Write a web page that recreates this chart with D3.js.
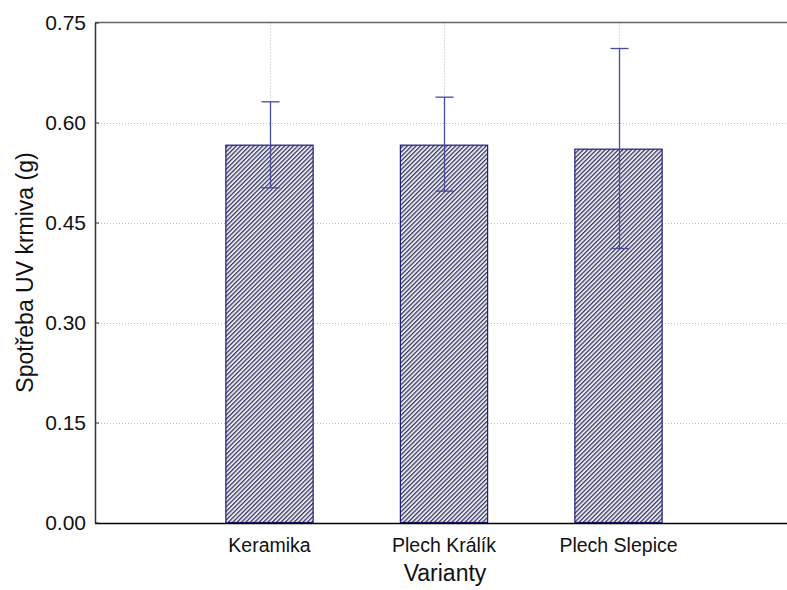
<!DOCTYPE html>
<html>
<head>
<meta charset="utf-8">
<script src="https://cdn.jsdelivr.net/npm/d3@7"></script>
<style>
  html, body { margin: 0; padding: 0; background: #fff; }
  text { font-family: "Liberation Sans", Arial, sans-serif; fill: #111; }
</style>
</head>
<body>
<svg id="chart" width="787" height="590"></svg>
<script>
// Mean consumption per variant with error bar bounds
const categories = ["Keramika", "Plech Králík", "Plech Slepice"];
const means = [0.566, 0.566, 0.560];
const upper = [0.631, 0.638, 0.711];
const lower = [0.502, 0.497, 0.411];
const yTicks = [0, 0.15, 0.30, 0.45, 0.60, 0.75];

const svg = d3.select("#chart");
const margin = { left: 95, top: 22.5, bottom: 67.5 };
const H = 590;
const plotBottom = H - margin.bottom;

// Category slots: positions 1..3 out of 0..4
const x = d3.scaleLinear().domain([0, 4]).range([margin.left, 793]);
const slot = x(1) - x(0);
const y = d3.scaleLinear().domain([0, 0.75]).range([plotBottom, margin.top]);

// Hatch pattern for bars
const defs = svg.append("defs");
const pat = defs.append("pattern")
  .attr("id", "hatch")
  .attr("patternUnits", "userSpaceOnUse")
  .attr("width", 3.1).attr("height", 3.1)
  .attr("patternTransform", "rotate(45)");
pat.append("rect").attr("width", 3.1).attr("height", 3.1).attr("fill", "#e8e8f0");
pat.append("rect").attr("width", 1.2).attr("height", 3.1).attr("fill", "#33335f");

// Horizontal grid
svg.append("g")
  .selectAll("line")
  .data(yTicks.filter(t => t > 0 && t < 0.75))
  .join("line")
  .attr("x1", margin.left).attr("x2", 787)
  .attr("y1", d => Math.round(y(d)) + 0.5).attr("y2", d => Math.round(y(d)) + 0.5)
  .attr("stroke", "#bbb").attr("stroke-width", 1)
  .attr("stroke-dasharray", "1,2");

// Vertical grid at categories
svg.append("g")
  .selectAll("line")
  .data(categories)
  .join("line")
  .attr("x1", (d, i) => Math.round(x(i + 1)) + 0.5)
  .attr("x2", (d, i) => Math.round(x(i + 1)) + 0.5)
  .attr("y1", margin.top).attr("y2", plotBottom)
  .attr("stroke", "#bbb").attr("stroke-width", 1)
  .attr("stroke-dasharray", "1,2");

// Bars
const barW = slot * 0.5;
svg.append("g")
  .selectAll("rect")
  .data(means)
  .join("rect")
  .attr("x", (d, i) => x(i + 1) - barW / 2)
  .attr("width", barW)
  .attr("y", d => y(d))
  .attr("height", d => plotBottom - y(d))
  .attr("fill", "url(#hatch)")
  .attr("stroke", "#1c1c80")
  .attr("stroke-width", 1.2);

// Error bars
const eb = svg.append("g").attr("stroke", "#4a4a9a").attr("stroke-width", 1.3);
categories.forEach((c, i) => {
  const cx = Math.round(x(i + 1)) + 0.5;
  eb.append("line").attr("x1", cx).attr("x2", cx).attr("y1", y(upper[i])).attr("y2", y(lower[i]));
  eb.append("line").attr("x1", cx - 9).attr("x2", cx + 9).attr("y1", y(upper[i])).attr("y2", y(upper[i]));
  eb.append("line").attr("x1", cx - 9).attr("x2", cx + 9).attr("y1", y(lower[i])).attr("y2", y(lower[i]));
});

// Frame: top and bottom lines
svg.append("line").attr("x1", margin.left).attr("x2", 787)
  .attr("y1", margin.top).attr("y2", margin.top)
  .attr("stroke", "#666").attr("stroke-width", 1.5);
svg.append("line").attr("x1", margin.left).attr("x2", 787)
  .attr("y1", plotBottom + 1).attr("y2", plotBottom + 1)
  .attr("stroke", "#000").attr("stroke-width", 1.5);

// Y axis
const yAxis = d3.axisLeft(y).tickValues(yTicks).tickFormat(d3.format(".2f"))
  .tickSizeInner(-4).tickSizeOuter(0).tickPadding(9);
const ya = svg.append("g").attr("transform", `translate(${margin.left},0)`).call(yAxis);
ya.select(".domain").attr("stroke", "#333").attr("stroke-width", 1.5);
ya.selectAll(".tick line").attr("stroke", "#333");
ya.selectAll(".tick text").style("font-size", "21px").attr("fill", "#111");

// X category labels
svg.append("g")
  .selectAll("text")
  .data(categories)
  .join("text")
  .attr("x", (d, i) => x(i + 1))
  .attr("y", 552)
  .attr("text-anchor", "middle")
  .style("font-size", "19.5px")
  .text(d => d);

// Axis titles
svg.append("text")
  .attr("x", 445).attr("y", 581)
  .attr("text-anchor", "middle")
  .style("font-size", "23px")
  .text("Varianty");

svg.append("text")
  .attr("transform", `translate(33,${(margin.top + plotBottom) / 2}) rotate(-90)`)
  .attr("text-anchor", "middle")
  .style("font-size", "23px")
  .text("Spotřeba UV krmiva (g)");
</script>
</body>
</html>
